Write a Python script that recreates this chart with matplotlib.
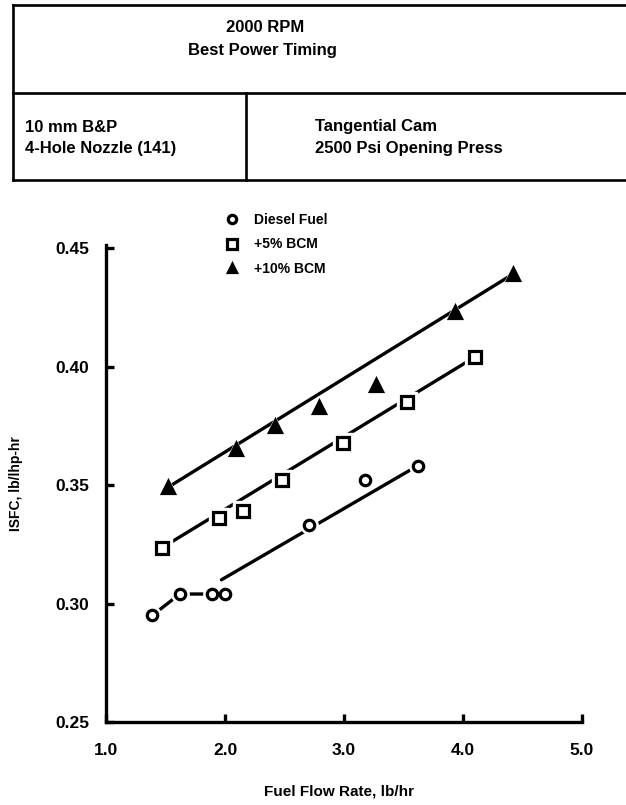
import numpy as np
import matplotlib
matplotlib.use('Agg')
from matplotlib import pyplot as plt
from matplotlib.lines import Line2D

plt.rcParams['font.family'] = ['Liberation Sans', 'DejaVu Sans']
plt.rcParams['font.weight'] = 'bold'
plt.rcParams['axes.labelweight'] = 'bold'

# data
diesel_x = [1.39, 1.62, 1.89, 2.00, 2.71, 3.18, 3.62]
diesel_y = [0.295, 0.304, 0.304, 0.304, 0.333, 0.352, 0.358]
bcm5_x = [1.47, 1.95, 2.15, 2.48, 2.99, 3.53, 4.10]
bcm5_y = [0.3235, 0.336, 0.339, 0.352, 0.3676, 0.385, 0.404]
bcm10_x = [1.52, 2.09, 2.42, 2.79, 3.27, 3.93, 4.42]
bcm10_y = [0.349, 0.365, 0.375, 0.383, 0.392, 0.423, 0.439]

# faired lines through each set
diesel_link_x = [1.39, 1.62, 1.89]
diesel_link_y = [0.295, 0.304, 0.304]
diesel_fit_x = [1.97, 3.58]
diesel_fit_y = [0.310, 0.357]
bcm5_fit_x = [1.47, 4.10]
bcm5_fit_y = [0.3235, 0.404]
bcm10_fit_x = [1.52, 4.42]
bcm10_fit_y = [0.349, 0.439]

x_ticks = [1.0, 2.0, 3.0, 4.0, 5.0]
y_ticks = [0.25, 0.30, 0.35, 0.40, 0.45]

W, H = 626, 805
fig = plt.figure(figsize=(W / 100, H / 100), dpi=100)


def fx(px):
    return px / W


def fy(py):
    return 1 - py / H


# header table
lw_tab = 1.9
for (x0, y0, x1, y1) in [(13, 5, 626, 5), (13, 93, 626, 93), (13, 180, 626, 180),
                         (13, 5, 13, 180), (246, 93, 246, 180)]:
    fig.add_artist(Line2D([fx(x0), fx(x1)], [fy(y0), fy(y1)], color='black', lw=lw_tab))

fig.text(fx(265), fy(27), '2000 RPM', ha='center', va='center', fontsize=12)
fig.text(fx(262), fy(51), 'Best Power Timing', ha='center', va='center', fontsize=12)
fig.text(fx(25), fy(127), '10 mm B&P', ha='left', va='center', fontsize=12)
fig.text(fx(25), fy(149), '4-Hole Nozzle (141)', ha='left', va='center', fontsize=12)
fig.text(fx(315), fy(127), 'Tangential Cam', ha='left', va='center', fontsize=12)
fig.text(fx(315), fy(149), '2500 Psi Opening Press', ha='left', va='center', fontsize=12)

# plot area
left, right, top, bottom = 106, 582, 245, 722
ax = fig.add_axes([fx(left), fy(bottom), fx(right - left), (bottom - top) / H])
ax.set_xlim(1.0, 5.0)
ax.set_ylim(0.25, 0.25 + 0.05 * (bottom - top) / 118.5)

for s in ['top', 'right']:
    ax.spines[s].set_visible(False)
for s in ['left', 'bottom']:
    ax.spines[s].set_linewidth(2.4)

ax.set_xticks(x_ticks)
ax.set_xticklabels([f'{v:.1f}' for v in x_ticks])
ax.set_yticks(y_ticks)
ax.set_yticklabels([f'{v:.2f}' for v in y_ticks])
ax.tick_params(direction='in', length=6, width=2.4, labelsize=12.5, pad=12)
ax.tick_params(axis='x', pad=15)

line_kw = dict(color='black', lw=2.4, solid_capstyle='round', zorder=2)
ax.plot(diesel_link_x, diesel_link_y, **line_kw)
ax.plot(diesel_fit_x, diesel_fit_y, **line_kw)
ax.plot(bcm5_fit_x, bcm5_fit_y, **line_kw)
ax.plot(bcm10_fit_x, bcm10_fit_y, **line_kw)

series = [
    (diesel_x, diesel_y, 'o', 'white', 7.5, 'Diesel Fuel'),
    (bcm5_x, bcm5_y, 's', 'white', 9, '+5% BCM'),
    (bcm10_x, bcm10_y, '^', 'black', 8, '+10% BCM'),
]
handles = []
for xs, ys, m, face, ms, label in series:
    # white halo leaves a small gap in the line round each point
    ax.plot(xs, ys, ls='none', marker=m, ms=ms + 5, mfc='white', mec='white', zorder=3)
    h, = ax.plot(xs, ys, ls='none', marker=m, ms=ms, mfc=face, mec='black',
                 mew=2.3, zorder=4, label=label)
    handles.append(h)

leg = fig.legend(handles=handles, loc='upper left', bbox_to_anchor=(fx(225), fy(213)),
                 frameon=False, fontsize=10, handlelength=1.0, handletextpad=1.1,
                 labelspacing=0.75, borderpad=0, borderaxespad=0, markerscale=0.8)

ax.set_ylabel('ISFC, lb/lhp-hr', fontsize=10)
ax.yaxis.set_label_coords((23 - left) / (right - left), 0.5)
ax.set_xlabel('Fuel Flow Rate, lb/hr', fontsize=11)
ax.xaxis.set_label_coords((339 - left) / (right - left), -(784 - bottom) / (bottom - top))

fig.savefig('out.png', dpi=100)
